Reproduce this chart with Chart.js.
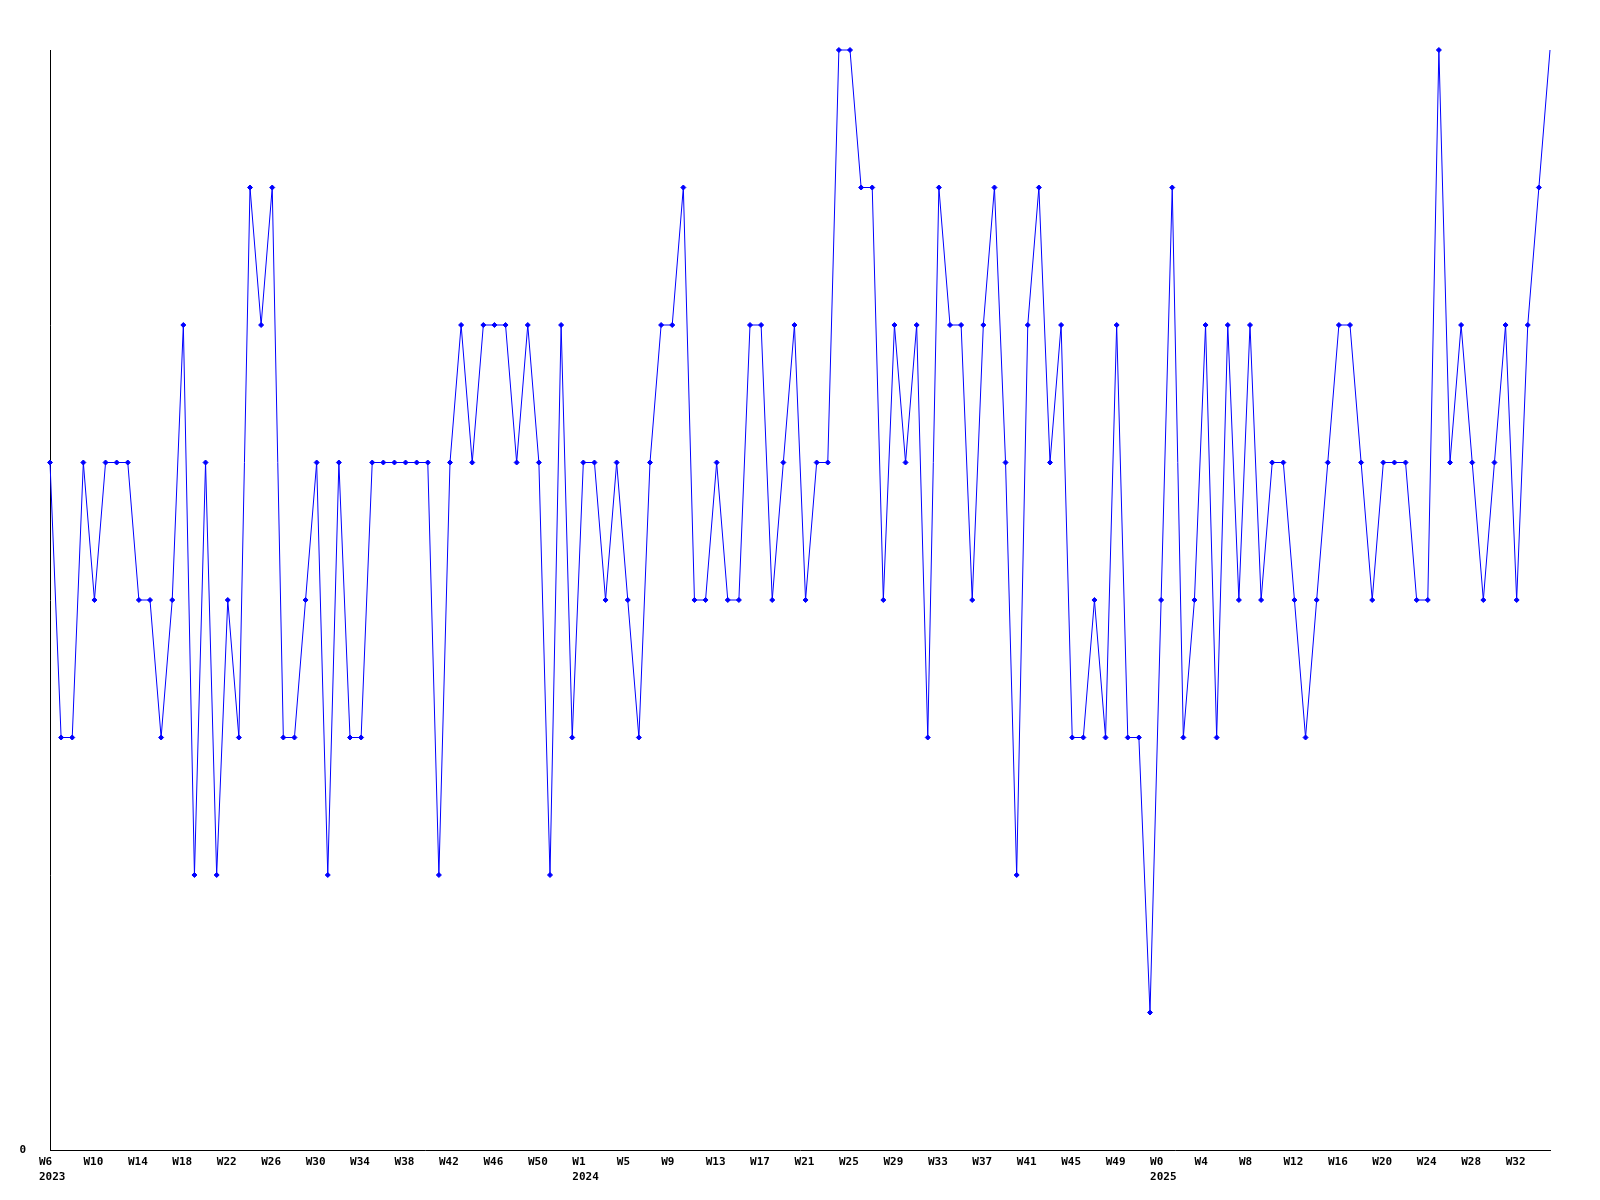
<!DOCTYPE html>
<html>
<head>
<meta charset="utf-8">
<title>Weekly values</title>
<script src="https://cdn.jsdelivr.net/npm/chart.js@4/dist/chart.umd.min.js"></script>
<style>
    html, body { margin: 0; padding: 0; background: #ffffff; }
    #chart { display: block; }
</style>
</head>
<body>
<canvas id="chart" width="1600" height="1200"></canvas>
<script>
// one value per week, starting W6 2023
const weeklyValues = [
    5, 3, 3, 5, 4, 5, 5, 5, 4, 4, 3, 4, 6, 2, 5, 2, 4, 3, 7, 6,
    7, 3, 3, 4, 5, 2, 5, 3, 3, 5, 5, 5, 5, 5, 5, 2, 5, 6, 5, 6,
    6, 6, 5, 6, 5, 2, 6, 3, 5, 5, 4, 5, 4, 3, 5, 6, 6, 7, 4, 4,
    5, 4, 4, 6, 6, 4, 5, 6, 4, 5, 5, 8, 8, 7, 7, 4, 6, 5, 6, 3,
    7, 6, 6, 4, 6, 7, 5, 2, 6, 7, 5, 6, 3, 3, 4, 3, 6, 3, 3, 1,
    4, 7, 3, 4, 6, 3, 6, 4, 6, 4, 5, 5, 4, 3, 4, 5, 6, 6, 5, 4,
    5, 5, 5, 4, 4, 8, 5, 6, 5, 4, 5, 6, 4, 6, 7, 8
];

// x tick labels, one every 4 weeks
const tickWeeks = [
    "W6", "W10", "W14", "W18", "W22", "W26", "W30", "W34", "W38", "W42", "W46", "W50",
    "W1", "W5", "W9", "W13", "W17", "W21", "W25", "W29", "W33", "W37", "W41", "W45", "W49",
    "W0", "W4", "W8", "W12", "W16", "W20", "W24", "W28", "W32"
];
// year shown under the first tick of each year
const tickYears = {0: "2023", 12: "2024", 25: "2025"};

const tickStep = 4;
const yMax = 8;

const points = weeklyValues.map((v, i) => ({x: i, y: v}));
const lastIndex = weeklyValues.length - 1;

const axisFont = {family: "'DejaVu Sans Mono', monospace", size: 11, weight: 'bold', lineHeight: 1.35};

new Chart(document.getElementById("chart"), {
    type: "line",
    data: {
        datasets: [{
            data: points,
            borderColor: "#0000ff",
            borderWidth: 1,
            tension: 0,
            fill: false,
            clip: false,
            pointStyle: "rectRot",
            pointRadius: ctx => ctx.dataIndex === lastIndex ? 0 : 2.5,
            pointBackgroundColor: "#0000ff",
            pointBorderColor: "#0000ff",
            pointBorderWidth: 1
        }]
    },
    options: {
        responsive: false,
        animation: false,
        devicePixelRatio: 1,
        layout: {padding: {top: 50, right: 50, left: 0, bottom: 0}},
        plugins: {
            legend: {display: false},
            tooltip: {enabled: false}
        },
        scales: {
            x: {
                type: "linear",
                min: 0,
                max: lastIndex,
                grid: {display: false, drawTicks: false},
                border: {display: true, color: "#000000", width: 1},
                afterBuildTicks: scale => {
                    scale.ticks = tickWeeks.map((w, i) => ({value: i * tickStep}));
                },
                afterFit: scale => { scale.height = 50; },
                ticks: {
                    autoSkip: false,
                    maxRotation: 0,
                    align: "start",
                    labelOffset: -11,
                    padding: 5,
                    color: "#000000",
                    font: axisFont,
                    callback: value => {
                        const i = Math.round(value / tickStep);
                        const year = tickYears[i];
                        return year ? [tickWeeks[i], year] : tickWeeks[i];
                    }
                }
            },
            y: {
                min: 0,
                max: yMax,
                grid: {display: false, drawTicks: false},
                border: {display: true, color: "#000000", width: 1},
                afterFit: scale => { scale.width = 50; },
                ticks: {
                    stepSize: 1,
                    padding: 24,
                    color: "#000000",
                    font: axisFont,
                    callback: value => value === 0 ? "0" : ""
                }
            }
        }
    }
});
</script>
</body>
</html>
